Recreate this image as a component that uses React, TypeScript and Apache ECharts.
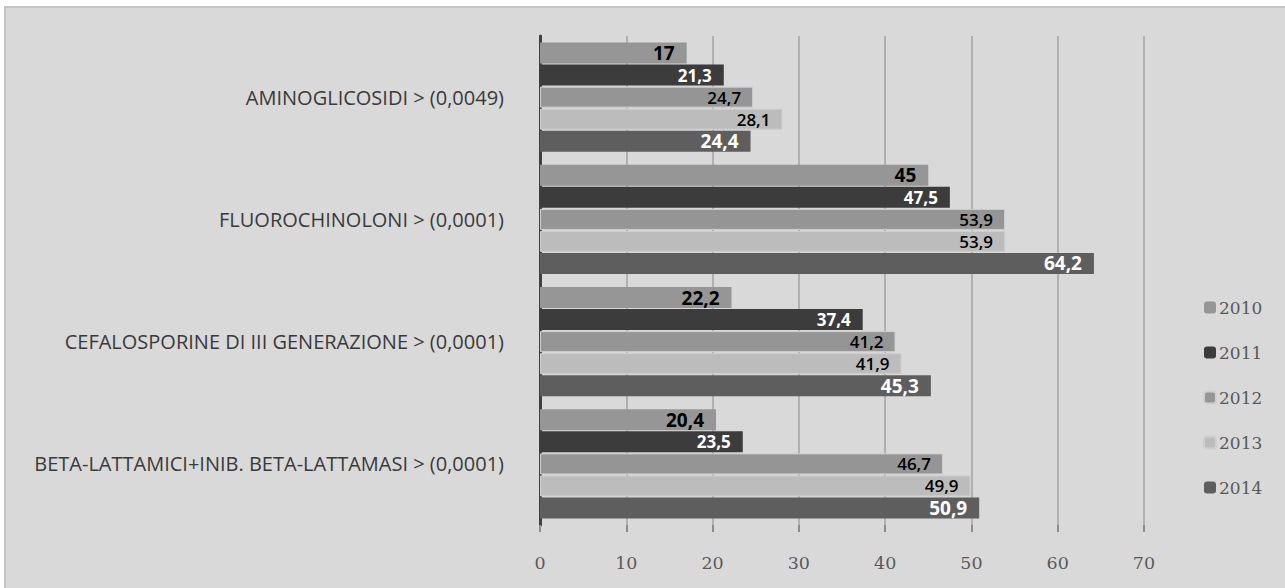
import React, { useEffect, useRef } from "react";
import * as echarts from "echarts";

const categories = [
  "BETA-LATTAMICI+INIB. BETA-LATTAMASI > (0,0001)",
  "CEFALOSPORINE DI III GENERAZIONE > (0,0001)",
  "FLUOROCHINOLONI > (0,0001)",
  "AMINOGLICOSIDI > (0,0049)",
];
const years = ["2010", "2011", "2012", "2013", "2014"];
const v2010 = [20.4, 22.2, 45, 17];
const v2011 = [23.5, 37.4, 47.5, 21.3];
const v2012 = [46.7, 41.2, 53.9, 24.7];
const v2013 = [49.9, 41.9, 53.9, 28.1];
const v2014 = [50.9, 45.3, 64.2, 24.4];
const xTicks = [0, 10, 20, 30, 40, 50, 60, 70];

const values = [v2010, v2011, v2012, v2013, v2014];
const colors = ["#969696", "#3c3c3c", "#959595", "#bcbcbc", "#5e5e5e"];
const labelStyles = [
  { color: "#000", fontWeight: "bold", fontSize: 19 },
  { color: "#fff", fontWeight: "bold", fontSize: 17 },
  { color: "#000", fontWeight: 600, fontSize: 17 },
  { color: "#000", fontWeight: 600, fontSize: 17 },
  { color: "#fff", fontWeight: "bold", fontSize: 19 },
];

export default function App() {
  const ref = useRef<HTMLDivElement>(null);
  useEffect(() => {
    if (!ref.current) return;
    const chart = echarts.init(ref.current, null, { renderer: "svg" });
    chart.setOption({
      animation: false,
      backgroundColor: "transparent",
      grid: { left: 540, right: 141, top: 36, bottom: 63, containLabel: false },
      legend: {
        orient: "vertical",
        left: 1198,
        top: 294,
        itemWidth: 12,
        itemHeight: 12,
        itemGap: 28,
        data: years,
        textStyle: { fontFamily: "DejaVu Serif", fontSize: 17, color: "#595959", padding: [0, 0, 0, -2] },
      },
      xAxis: {
        type: "value",
        min: 0,
        max: xTicks[xTicks.length - 1],
        interval: 10,
        axisLine: { show: false },
        axisTick: { show: true, length: 7, lineStyle: { color: "#8c8c8c", width: 2 } },
        splitLine: { show: true, lineStyle: { color: "#b0b0b0", width: 2 } },
        axisLabel: {
          fontFamily: "DejaVu Serif",
          fontSize: 17.5,
          color: "#595959",
          margin: 29,
        },
      },
      yAxis: {
        type: "category",
        data: categories,
        axisLine: { show: true, lineStyle: { color: "#404040", width: 3 } },
        axisTick: { show: false },
        axisLabel: {
          fontFamily: "Open Sans",
          fontSize: 20,
          color: "#3a3a3a",
          margin: 36,
        },
      },
      series: years.map((y, i) => ({
        name: y,
        type: "bar",
        data: values[i],
        barWidth: 21,
        barGap: "5%",
        itemStyle: {
          color: colors[i],
          borderColor: i === 2 || i === 3 ? "#cfcfcf" : colors[i],
          borderWidth: i === 2 || i === 3 ? 1 : 0,
        },
        label: {
          show: true,
          position: "insideRight",
          distance: 12,
          fontFamily: "Open Sans",
          ...labelStyles[i],
          formatter: (p: any) => String(p.value).replace(".", ","),
        },
      })),
    });
    return () => chart.dispose();
  }, []);
  return (
    <div style={{ position: "fixed", left: 0, top: 0, width: 1285, height: 588, background: "#ffffff", overflow: "hidden" }}>
      <div
        style={{
          position: "absolute",
          left: 4,
          top: 6,
          width: 1300,
          height: 600,
          background: "#d9d9d9",
          border: "2px solid #c4c4c4",
        }}
      />
      <div ref={ref} style={{ position: "absolute", left: 0, top: 0, width: 1285, height: 588 }} />
    </div>
  );
}
